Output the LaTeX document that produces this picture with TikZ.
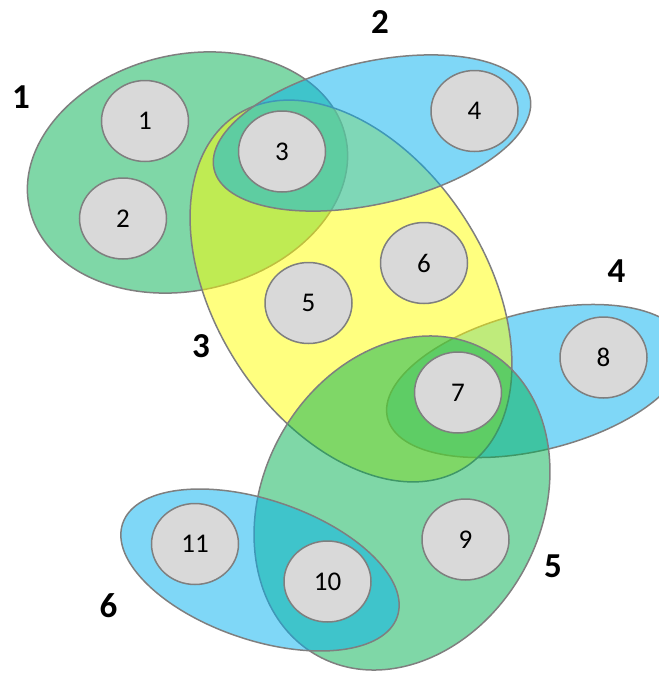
\documentclass[tikz,border=0pt]{standalone}
\usepackage{fontspec}
\setmainfont{Carlito}
\usepackage{xcolor}

\definecolor{edgegreen}{HTML}{00B050}
\definecolor{edgeblue}{HTML}{00B0F0}
\definecolor{edgeyellow}{HTML}{FFFF00}
\definecolor{vertexgray}{HTML}{D9D9D9}
\definecolor{linegray}{HTML}{7F7F7F}

\tikzset{
  hyperedge/.style={draw=linegray, line width=1.5pt, fill opacity=0.5},
  vertex/.style={ellipse, draw=linegray, line width=1.5pt, fill=vertexgray,
    minimum width=87pt, minimum height=81pt, inner sep=0pt,
    font=\fontsize{27}{27}\selectfont},
  edgelabel/.style={font=\fontsize{35}{35}\selectfont\bfseries}
}
\usetikzlibrary{shapes.geometric}

\begin{document}
\begin{tikzpicture}[x=1pt,y=-1pt]
  \useasboundingbox (0,0) rectangle (659,673);

  % Hyperedges, back to front (each fill covers the outlines below it)
  \filldraw[hyperedge, fill=edgegreen, rotate around={12.9:(187.5,172.5)}]
    (187.5,172.5) ellipse (162 and 118);
  \filldraw[hyperedge, fill=edgeblue, rotate around={14:(536,381)}]
    (536,381) ellipse (153 and 69);
  \filldraw[hyperedge, fill=edgeyellow, rotate around={-57:(351,291)}]
    (351,291) ellipse (210 and 135);
  \filldraw[hyperedge, fill=edgeblue, rotate around={12.9:(372,133)}]
    (372,133) ellipse (162 and 71);
  \filldraw[hyperedge, fill=edgegreen, rotate around={61.3:(402,503)}]
    (402,503) ellipse (174.5 and 139);
  \filldraw[hyperedge, fill=edgeblue, rotate around={-18.7:(260,570)}]
    (260,570) ellipse (145 and 70);

  % Vertices
  \node[vertex] (v1) at (145,121) {1};
  \node[vertex] (v2) at (123,218.5) {2};
  \node[vertex] (v3) at (282,151.5) {3};
  \node[vertex] (v4) at (474.5,111) {4};
  \node[vertex] (v5) at (308.5,303) {5};
  \node[vertex] (v6) at (424,263) {6};
  \node[vertex] (v7) at (458,392.5) {7};
  \node[vertex] (v8) at (603.5,357.5) {8};
  \node[vertex] (v9) at (465.5,539.5) {9};
  \node[vertex] (v10) at (327.5,581.5) {10};
  \node[vertex] (v11) at (195,544) {11};

  % Hyperedge numbers
  \node[edgelabel] (e1) at (21,97) {1};
  \node[edgelabel] (e2) at (380,22) {2};
  \node[edgelabel] (e3) at (201,346) {3};
  \node[edgelabel] (e4) at (616.5,271.5) {4};
  \node[edgelabel] (e5) at (553,566) {5};
  \node[edgelabel] (e6) at (108.5,606) {6};
\end{tikzpicture}
\end{document}
